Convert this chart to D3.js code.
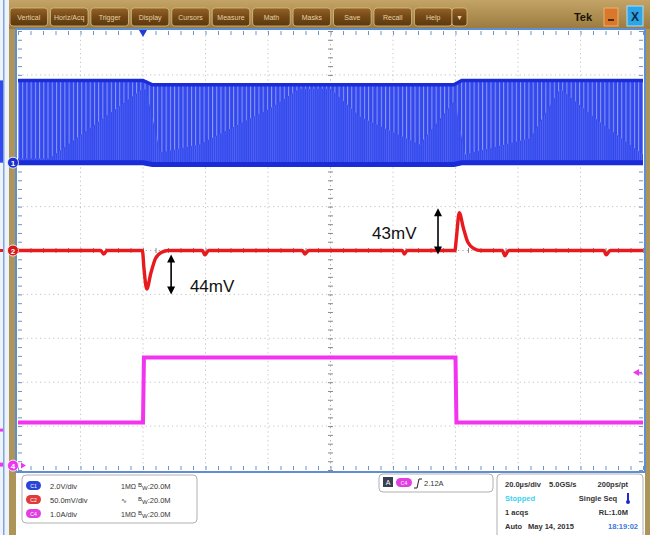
<!DOCTYPE html>
<html><head><meta charset="utf-8">
<script src="https://cdn.jsdelivr.net/npm/d3@7/dist/d3.min.js"></script>
<style>
html,body{margin:0;padding:0;background:#fff;}
svg{display:block;font-family:"Liberation Sans",Arial,sans-serif;}
</style></head><body>
<svg id="c" width="650" height="535"></svg>
<script>
// ---------------- DATA ----------------
const menuItems = ["Vertical","Horiz/Acq","Trigger","Display","Cursors","Measure","Math","Masks","Save","Recall","Help","▼"];
const timeDomain = [-40, 160];          // µs, trigger at 0
const timePerDiv = 20;                  // µs/div
const divDomain = [-5, 5];              // vertical divisions

const chNames = ["C1", "C2", "C4"];
const chNumbers = ["1", "2", "4"];
const chScale = [2.0, 50.0, 1.0];       // V/div, mV/div, A/div
const chPosition = [2.0, 0.0, -4.9];    // div (ground marker)
const chScaleText = ["2.0V/div", "50.0mV/div", "1.0A/div"];
const chCoupling = ["1MΩ", "∿", "1MΩ"];
const chBandwidth = ["20.0M", "20.0M", "20.0M"];

// Ch1: switch node (V) envelope
const ch1Time = [-40, 0, 3, 99.5, 102, 160];
const ch1High = [3.75, 3.75, 3.55, 3.55, 3.75, 3.75];
const ch1Low  = [0.0, 0.0, -0.08, -0.08, 0.0, 0.0];
// Ch1: depth (fraction of band) of the visible switching edges
const ch1StripeTime  = [-40, -30, 0, 1, 5.5, 18, 40.5, 50, 60, 69.5, 88.5, 99.8, 103, 124, 133.5, 146, 160];
const ch1StripeDepth = [0.95, 0.95, 0.1, 0.1, 0.85, 0.75, 0.3, 0.05, 0.05, 0.4, 0.75, 0.2, 0.9, 0.7, 0.1, 0.5, 0.9];
const ch1SwitchPeriod = 1.35;           // µs

// Ch2: output voltage ripple (mV)
const ch2Time  = [-40, -13.5, -12.6, -11.5, -0.2, 0.3, 1.2, 2.5, 4, 6, 8, 19, 19.8, 21, 51, 51.8, 53, 83, 83.6, 84.6, 99.8, 100.3, 101.2, 102.5, 104, 106, 108, 115, 115.8, 117, 147.5, 148.2, 149.5, 160];
const ch2Value = [0, 0, -4, 0, 0, -20, -44, -26, -9, -2, 0, 0, -5, 0, 0, -4, 0, 0, -4, 0, 0, 15, 43, 26, 9, 2, 0, 0, -6, 0, 0, -5, 0, 0];

// Ch4: load current (A)
const ch4Time  = [-40, 0, 0.3, 100, 100.3, 160];
const ch4Value = [0.98, 0.98, 2.46, 2.46, 0.98, 0.98];

const triggerLevel = 2.12;              // A on C4

// Annotations (mV on C2)
const annText = ["44mV", "43mV"];
const annArrowTime = [9, 94.4];
const annArrowFrom = [-4.5, -4.5];
const annArrowTo = [-50, 48];
const annTextTime = [15, 73.3];
const annTextValue = [-47, 13];

// Info panel
const trigText = "2.12A";
const horizLeft = [["20.0µs/div", "5.0GS/s"], ["Stopped"], ["1 acqs"], ["Auto", "May 14, 2015"]];
const horizRight = ["200ps/pt", "Single Seq", "RL:1.0M", "18:19:02"];

// ---------------- STYLE ----------------
const colC1 = "#3349ee", colC1Edge = "#1a2cd8", colC1Stripe = "#8d9bf4";
const colC2 = "#e81a1e", colC4 = "#f234f0";
const gold = "#ad955a", frameBlue = "#5f8fd0";

const svg = d3.select("#c");
const defs = svg.append("defs");

const X0 = 18, X1 = 643, Y0 = 31, Y1 = 470;
const x = d3.scaleLinear().domain(timeDomain).range([X0, X1]);
const yDiv = d3.scaleLinear().domain(divDomain).range([Y1, Y0]);
const chY = i => v => yDiv(v / chScale[i] + chPosition[i]);
const y1 = chY(0), y2 = chY(1), y4 = chY(2);

// backgrounds
svg.append("rect").attr("width", 650).attr("height", 535).attr("fill", "#fff");
// left strip
svg.append("rect").attr("x", 0).attr("y", 0).attr("width", 9).attr("height", 535).attr("fill", "#eef3fb");
svg.append("rect").attr("x", 3).attr("y", 0).attr("width", 1.5).attr("height", 535).attr("fill", "#7fa6dc");
svg.append("rect").attr("x", 0).attr("y", y1(ch1High[0])).attr("width", 3).attr("height", y1(0) - y1(ch1High[0])).attr("fill", colC1);
svg.append("rect").attr("x", 0).attr("y", y2(0) - 1.5).attr("width", 3).attr("height", 3).attr("fill", colC2);
svg.append("rect").attr("x", 0).attr("y", y4(ch4Value[0]) + 6).attr("width", 3).attr("height", 3).attr("fill", colC4);
svg.append("rect").attr("x", 0).attr("y", y4(0) - 3).attr("width", 3).attr("height", 4).attr("fill", colC4);
svg.append("rect").attr("x", 9).attr("y", 0).attr("width", 7).attr("height", 535).attr("fill", gold);
// right strip
svg.append("rect").attr("x", 645).attr("y", 0).attr("width", 5).attr("height", 535).attr("fill", gold);

// menu bar
const mg = defs.append("linearGradient").attr("id", "mbar").attr("x1", 0).attr("y1", 0).attr("x2", 0).attr("y2", 1);
mg.append("stop").attr("offset", "0").attr("stop-color", "#c4a466");
mg.append("stop").attr("offset", "1").attr("stop-color", "#9a7a3e");
svg.append("rect").attr("x", 9).attr("y", 0).attr("width", 641).attr("height", 29).attr("fill", "url(#mbar)");
const bg = defs.append("linearGradient").attr("id", "mbtn").attr("x1", 0).attr("y1", 0).attr("x2", 0).attr("y2", 1);
bg.append("stop").attr("offset", "0").attr("stop-color", "#946426");
bg.append("stop").attr("offset", "0.5").attr("stop-color", "#744816");
bg.append("stop").attr("offset", "1").attr("stop-color", "#5a380e");
const btnX = d3.scaleBand().domain(menuItems.slice(0, 11)).range([10, 452]).paddingInner(0.07);
const btns = svg.append("g").selectAll("g").data(menuItems).join("g")
  .attr("transform", (d, i) => `translate(${i < 11 ? btnX(d) : 452},8)`);
btns.append("rect").attr("width", (d, i) => i < 11 ? btnX.bandwidth() : 15).attr("height", 18).attr("rx", 3)
  .attr("fill", "url(#mbtn)").attr("stroke", "#d8bd86").attr("stroke-width", 0.8);
btns.append("text").attr("x", (d, i) => (i < 11 ? btnX.bandwidth() : 15) / 2).attr("y", 12)
  .attr("text-anchor", "middle").attr("font-size", 7).attr("fill", "#e6d3a6").text(d => d);
svg.append("text").attr("x", 583).attr("y", 21).attr("text-anchor", "middle").attr("font-size", 11).attr("font-weight", "bold").attr("fill", "#1a1408").text("Tek");
svg.append("rect").attr("x", 604).attr("y", 8).attr("width", 14).attr("height", 18).attr("fill", "#d9782a").attr("stroke", "#f0b070");
svg.append("rect").attr("x", 608).attr("y", 19).attr("width", 6).attr("height", 2).attr("fill", "#4a2a08");
svg.append("rect").attr("x", 627).attr("y", 6).attr("width", 16).attr("height", 20).attr("fill", "#2ea6e6").attr("stroke", "#a6e0ff");
svg.append("text").attr("x", 635).attr("y", 21).attr("text-anchor", "middle").attr("font-size", 12).attr("font-weight", "bold").attr("fill", "#0a2a44").text("X");

// plot frame
svg.append("rect").attr("x", 16).attr("y", 29).attr("width", 629).attr("height", 443).attr("fill", "#fff").attr("stroke", frameBlue).attr("stroke-width", 2);

// grid
const g = svg.append("g");
const xMajor = d3.range(timeDomain[0], timeDomain[1] + 0.1, timePerDiv);
const yMajor = d3.range(divDomain[0], divDomain[1] + 0.1, 1);
g.selectAll(".gv").data(xMajor.slice(1, -1)).join("line")
  .attr("x1", d => x(d)).attr("x2", d => x(d)).attr("y1", Y0).attr("y2", Y1)
  .attr("stroke", (d) => d === 60 ? "#a8a8a8" : "#c4c4c4").attr("stroke-width", 1).attr("stroke-dasharray", "1.2,3.2");
g.selectAll(".gh").data(yMajor.slice(1, -1)).join("line")
  .attr("y1", d => yDiv(d)).attr("y2", d => yDiv(d)).attr("x1", X0).attr("x2", X1)
  .attr("stroke", d => d === 0 ? "#a8a8a8" : "#c4c4c4").attr("stroke-width", 1).attr("stroke-dasharray", "1.2,3.2");

// edge & center ticks via axes
const xMinor = d3.range(timeDomain[0], timeDomain[1] + 0.1, timePerDiv / 5);
const yMinor = d3.range(divDomain[0], divDomain[1] + 0.01, 0.2);
function styleAxis(sel, col) { sel.select(".domain").remove(); sel.selectAll("line").attr("stroke", col); sel.selectAll("text").remove(); }
g.append("g").attr("transform", `translate(0,${Y0})`).call(d3.axisTop(x).tickValues(xMinor).tickSize(-4)).call(s => styleAxis(s, "#6f93c8"));
g.append("g").attr("transform", `translate(0,${Y1})`).call(d3.axisBottom(x).tickValues(xMinor).tickSize(-4)).call(s => styleAxis(s, "#6f93c8"));
g.append("g").attr("transform", `translate(${X0},0)`).call(d3.axisLeft(yDiv).tickValues(yMinor).tickSize(-4)).call(s => styleAxis(s, "#6f93c8"));
g.append("g").attr("transform", `translate(${X1},0)`).call(d3.axisRight(yDiv).tickValues(yMinor).tickSize(-4)).call(s => styleAxis(s, "#6f93c8"));
g.append("g").attr("transform", `translate(${x(60) + 2.5},0)`).call(d3.axisLeft(yDiv).tickValues(yMinor).tickSize(5)).call(s => styleAxis(s, "#8a8a8a"));
g.append("g").attr("transform", `translate(0,${yDiv(0) + 2.5})`).call(d3.axisTop(x).tickValues(xMinor).tickSize(5)).call(s => styleAxis(s, "#8a8a8a"));

// ---------------- CH1 band ----------------
const ch1 = ch1Time.map((t, i) => ({ t, hi: ch1High[i], lo: ch1Low[i] }));
const hiAt = d3.scaleLinear().domain(ch1Time).range(ch1High);
const loAt = d3.scaleLinear().domain(ch1Time).range(ch1Low);
const periodPx = x(ch1SwitchPeriod) - x(0);
const pat = defs.append("pattern").attr("id", "stripes").attr("patternUnits", "userSpaceOnUse")
  .attr("x", X0).attr("y", 0).attr("width", periodPx).attr("height", 10);
pat.append("rect").attr("width", periodPx).attr("height", 10).attr("fill", colC1);
pat.append("rect").attr("x", 0).attr("width", 1).attr("height", 10).attr("fill", colC1Stripe);
const pat2 = defs.append("pattern").attr("id", "texture").attr("patternUnits", "userSpaceOnUse")
  .attr("x", X0 + 1).attr("y", 0).attr("width", periodPx / 2).attr("height", 10);
pat2.append("rect").attr("width", periodPx / 2).attr("height", 10).attr("fill", colC1);
pat2.append("rect").attr("x", 0).attr("width", 0.8).attr("height", 10).attr("fill", "#4f62f0");

const band = d3.area().x(d => x(d.t)).y0(d => y1(d.lo)).y1(d => y1(d.hi));
svg.append("path").datum(ch1).attr("d", band).attr("fill", "url(#texture)");
const stripeData = ch1StripeTime.map((t, i) => ({ t, depth: ch1StripeDepth[i] }));
const stripeArea = d3.area().x(d => x(d.t))
  .y0(d => y1(hiAt(d.t) - d.depth * (hiAt(d.t) - loAt(d.t))))
  .y1(d => y1(hiAt(d.t)));
svg.append("path").datum(stripeData).attr("d", stripeArea).attr("fill", "url(#stripes)");
svg.append("path").datum(ch1).attr("d", d3.line().x(d => x(d.t)).y(d => y1(d.hi))).attr("fill", "none").attr("stroke", colC1Edge).attr("stroke-width", 3.5);
svg.append("path").datum(ch1).attr("d", d3.line().x(d => x(d.t)).y(d => y1(d.lo))).attr("fill", "none").attr("stroke", colC1Edge).attr("stroke-width", 5);

// ---------------- CH2 ----------------
const ch2 = ch2Time.map((t, i) => ({ t, v: ch2Value[i] }));
svg.append("path").datum(ch2).attr("d", d3.line().x(d => x(d.t)).y(d => y2(d.v)).curve(d3.curveMonotoneX))
  .attr("fill", "none").attr("stroke", colC2).attr("stroke-width", 3.4).attr("stroke-linejoin", "round");

// ---------------- CH4 ----------------
const ch4 = ch4Time.map((t, i) => ({ t, v: ch4Value[i] }));
svg.append("path").datum(ch4).attr("d", d3.line().x(d => x(d.t)).y(d => y4(d.v)))
  .attr("fill", "none").attr("stroke", colC4).attr("stroke-width", 4);

// ---------------- markers ----------------
svg.append("path").attr("d", `M${x(0) - 4},${Y0 - 1}L${x(0) + 4},${Y0 - 1}L${x(0)},${Y0 + 6}Z`).attr("fill", "#1d3fd6");
const mk = [{ i: 0, y: y1(0), c: "#1d2fd0" }, { i: 1, y: y2(0), c: "#d81818" }, { i: 2, y: Math.min(y4(0), Y1 - 4), c: colC4 }];
const mks = svg.append("g").selectAll("g").data(mk).join("g").attr("transform", d => `translate(13,${d.y})`);
mks.append("circle").attr("r", 5.5).attr("fill", d => d.c).attr("stroke", "#fff").attr("stroke-width", 0.8);
mks.append("text").attr("y", 3).attr("text-anchor", "middle").attr("font-size", 8).attr("font-weight", "bold").attr("fill", "#fff").text(d => chNumbers[d.i]);
svg.append("path").attr("d", `M21,${y4(0) - 3}L26,${y4(0)}L21,${y4(0) + 3}Z`).attr("fill", colC4);
// trigger level arrow
const ty = y4(triggerLevel);
svg.append("path").attr("d", `M633,${ty}L639,${ty - 3.5}L639,${ty + 3.5}Z`).attr("fill", colC4);
svg.append("line").attr("x1", 638).attr("x2", 642).attr("y1", ty).attr("y2", ty).attr("stroke", colC4).attr("stroke-width", 1.5);

// ---------------- annotations ----------------
function dblArrow(xp, ya, yb) {
  const top = Math.min(ya, yb), bot = Math.max(ya, yb);
  const a = svg.append("g");
  a.append("line").attr("x1", xp).attr("x2", xp).attr("y1", top + 6).attr("y2", bot - 6).attr("stroke", "#000").attr("stroke-width", 1.6);
  a.append("path").attr("d", `M${xp},${top}L${xp - 4},${top + 8}L${xp + 4},${top + 8}Z`).attr("fill", "#000");
  a.append("path").attr("d", `M${xp},${bot}L${xp - 4},${bot - 8}L${xp + 4},${bot - 8}Z`).attr("fill", "#000");
}
annText.forEach((txt, i) => {
  dblArrow(x(annArrowTime[i]), y2(annArrowFrom[i]), y2(annArrowTo[i]));
  svg.append("text").attr("x", x(annTextTime[i])).attr("y", y2(annTextValue[i]))
    .attr("font-size", 17).attr("fill", "#111").text(txt);
});

// ---------------- info panel ----------------
svg.append("rect").attr("x", 22).attr("y", 475).attr("width", 175).attr("height", 48).attr("rx", 4).attr("fill", "#fff").attr("stroke", "#b0b0b0");
const badgeCol = ["#2a44d8", "#e03a3a", "#e23ee2"];
const rowY = d3.scalePoint().domain([0, 1, 2]).range([486, 514]);
chNames.forEach((n, i) => {
  const yy = rowY(i);
  svg.append("rect").attr("x", 26).attr("y", yy - 5).attr("width", 15).attr("height", 9).attr("rx", 4.5).attr("fill", badgeCol[i]);
  svg.append("text").attr("x", 33.5).attr("y", yy + 2).attr("text-anchor", "middle").attr("font-size", 5).attr("fill", "#fff").text(n);
  svg.append("text").attr("x", 50).attr("y", yy + 3).attr("font-size", 7.5).attr("fill", "#333").text(chScaleText[i]);
  svg.append("text").attr("x", 121).attr("y", yy + 3).attr("font-size", 7).attr("fill", "#333").text(chCoupling[i]);
  const bw = svg.append("text").attr("x", 138).attr("y", yy + 3).attr("font-size", 7.5).attr("fill", "#333");
  bw.append("tspan").attr("font-size", 6).attr("dy", -2).text("B");
  bw.append("tspan").attr("font-size", 6).attr("dy", 3).text("W");
  bw.append("tspan").attr("dy", -1).text(":" + chBandwidth[i]);
});
// trigger box
svg.append("rect").attr("x", 379).attr("y", 474).attr("width", 114).attr("height", 18).attr("rx", 4).attr("fill", "#fff").attr("stroke", "#b0b0b0");
svg.append("rect").attr("x", 383).attr("y", 477).attr("width", 10).attr("height", 10).attr("fill", "#3a3e52");
svg.append("text").attr("x", 388).attr("y", 485).attr("text-anchor", "middle").attr("font-size", 7).attr("fill", "#fff").text("A");
svg.append("rect").attr("x", 396).attr("y", 478).attr("width", 16).attr("height", 9).attr("rx", 4.5).attr("fill", badgeCol[2]);
svg.append("text").attr("x", 404).attr("y", 485).attr("text-anchor", "middle").attr("font-size", 5).attr("fill", "#fff").text("C4");
svg.append("path").attr("d", "M414,488L417,488L419,479L422,479").attr("fill", "none").attr("stroke", "#222").attr("stroke-width", 1);
svg.append("text").attr("x", 424).attr("y", 486).attr("font-size", 7.5).attr("fill", "#333").text(trigText);
// horizontal box
svg.append("rect").attr("x", 497).attr("y", 474).attr("width", 146).attr("height", 70).attr("rx", 4).attr("fill", "#fff").attr("stroke", "#b0b0b0");
const hY = d3.scalePoint().domain([0, 1, 2, 3]).range([487, 529]);
horizLeft.forEach((r, i) => {
  svg.append("text").attr("x", 505).attr("y", hY(i)).attr("font-size", 7.5).attr("font-weight", 600)
    .attr("fill", i === 1 ? "#3ad0f0" : "#333").text(r[0]);
  if (r[1]) {
    svg.append("text").attr("x", i === 0 ? 549 : 528).attr("y", hY(i)).attr("font-size", 7.5).attr("font-weight", 600)
      .attr("fill", "#333").text(r[1]);
  }
  const right = i === 1 ? 598 : 628;
  svg.append("text").attr("x", i === 3 ? 638 : right).attr("y", hY(i)).attr("text-anchor", i === 1 ? "middle" : "end")
    .attr("font-size", 7.5).attr("font-weight", 600).attr("fill", i === 3 ? "#3a7ad8" : "#333").text(horizRight[i]);
});
// acquisition icon
svg.append("line").attr("x1", 628).attr("x2", 628).attr("y1", 493).attr("y2", 501).attr("stroke", "#1a2ad0").attr("stroke-width", 2);
svg.append("circle").attr("cx", 628).attr("cy", 502).attr("r", 2).attr("fill", "#1a2ad0");
</script>
</body></html>
